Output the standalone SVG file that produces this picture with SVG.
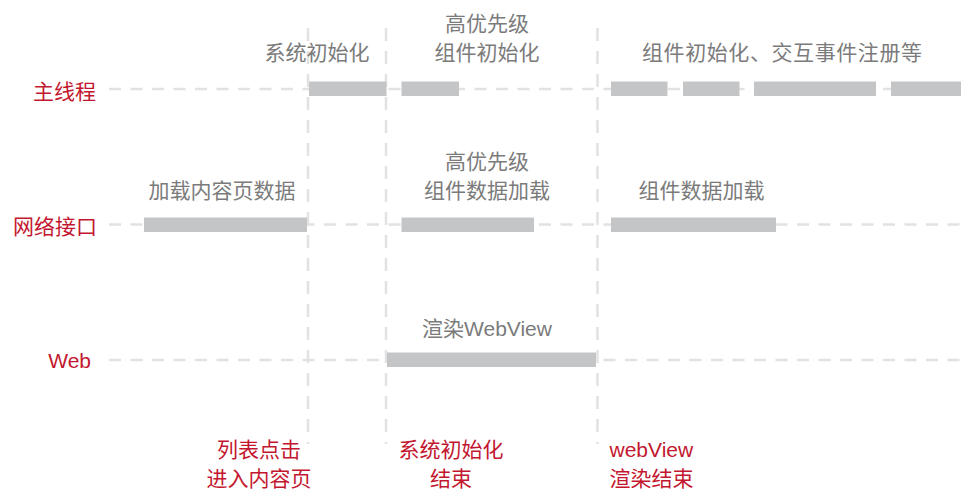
<svg xmlns="http://www.w3.org/2000/svg" width="974" height="497" viewBox="0 0 974 497">
<style>
  .grid{stroke:#e2e2e2;stroke-width:2.5;stroke-dasharray:12 9.5;fill:none}
  .vgrid{stroke:#e2e2e2;stroke-width:2.5;stroke-dasharray:13 10;fill:none}
  .bar{fill:#c4c5c7}
  .lbl{font-family:"Liberation Sans","Noto Sans CJK SC",sans-serif;font-size:21px;fill:#7b7b7b}
  .row{font-family:"Liberation Sans","Noto Sans CJK SC",sans-serif;font-size:21px;fill:#c3172f}
  .mid{text-anchor:middle}
  .end{text-anchor:end}
</style>
<rect width="974" height="497" fill="#ffffff"/>
<g id="connectors">
  <line class="grid" x1="109" y1="89" x2="964" y2="89"/>
  <line class="grid" x1="109" y1="224.5" x2="964" y2="224.5"/>
  <line class="grid" x1="109" y1="360" x2="964" y2="360"/>
  <line class="vgrid" x1="308" y1="28" x2="308" y2="444"/>
  <line class="vgrid" x1="386" y1="28" x2="386" y2="444"/>
  <line class="vgrid" x1="597.5" y1="28" x2="597.5" y2="444"/>
</g>
<g id="row-main">
  <text class="row end" x="96" y="99">主线程</text>
</g>
<g id="row-network">
  <text class="row end" x="97" y="234">网络接口</text>
</g>
<g id="row-web">
  <text class="row end" x="91" y="368">Web</text>
</g>
<g id="main-sysinit">
  <rect class="bar" x="309" y="81.5" width="77.5" height="14.5"/>
  <text class="lbl mid" x="317" y="60">系统初始化</text>
</g>
<g id="main-priority-init">
  <rect class="bar" x="401.5" y="81.5" width="57.5" height="14.5"/>
  <text class="lbl mid" x="487" y="31">高优先级</text>
  <text class="lbl mid" x="487" y="60">组件初始化</text>
</g>
<g id="main-components-init">
  <rect class="bar" x="611" y="81.5" width="56.5" height="14.5"/>
  <rect class="bar" x="683" y="81.5" width="56.5" height="14.5"/>
  <rect class="bar" x="754" y="81.5" width="122" height="14.5"/>
  <rect class="bar" x="891" y="81.5" width="70" height="14.5"/>
  <text class="lbl" x="642" y="60" textLength="280" lengthAdjust="spacing">组件初始化、交互事件注册等</text>
</g>
<g id="net-page-data">
  <rect class="bar" x="144" y="217.5" width="163" height="14.5"/>
  <text class="lbl mid" x="222" y="198">加载内容页数据</text>
</g>
<g id="net-priority-data">
  <rect class="bar" x="401.5" y="217.5" width="132.5" height="14.5"/>
  <text class="lbl mid" x="487" y="169">高优先级</text>
  <text class="lbl mid" x="487" y="198">组件数据加载</text>
</g>
<g id="net-component-data">
  <rect class="bar" x="611" y="217.5" width="165" height="14.5"/>
  <text class="lbl" x="638.5" y="198">组件数据加载</text>
</g>
<g id="web-render">
  <rect class="bar" x="387" y="352.5" width="209" height="14.5"/>
  <text class="lbl mid" x="487" y="336">渲染WebView</text>
</g>
<g id="event-click">
  <text class="row mid" x="259" y="457">列表点击</text>
  <text class="row mid" x="259" y="486">进入内容页</text>
</g>
<g id="event-sysinit-end">
  <text class="row mid" x="451" y="457">系统初始化</text>
  <text class="row mid" x="451" y="486">结束</text>
</g>
<g id="event-webview-end">
  <text class="row" x="609.5" y="457">webView</text>
  <text class="row" x="609.5" y="486">渲染结束</text>
</g>
</svg>
